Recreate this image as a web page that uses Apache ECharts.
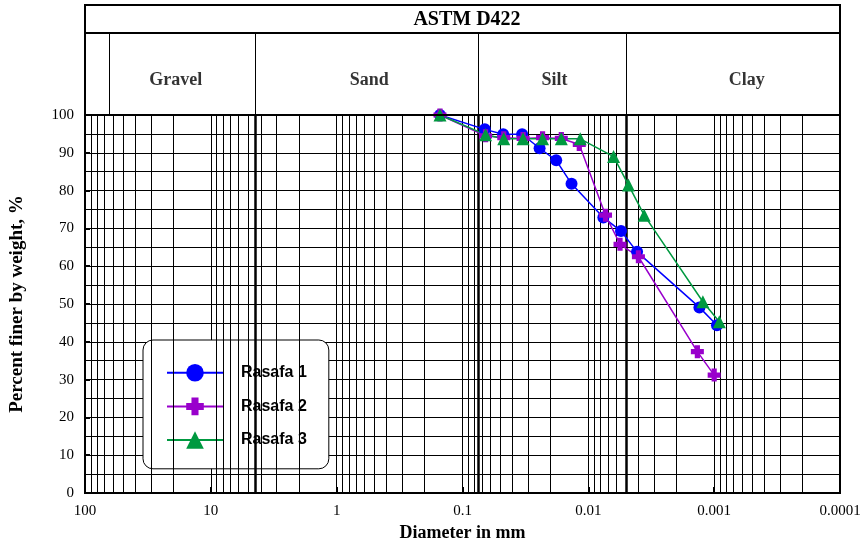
<!DOCTYPE html>
<html>
<head>
<meta charset="utf-8">
<script src="https://cdn.jsdelivr.net/npm/echarts@6/dist/echarts.min.js"></script>
<style>
  html, body { margin: 0; padding: 0; background: #fff; }
  #chart { width: 864px; height: 545px; }
</style>
</head>
<body>
<div id="chart"></div>
<script>
// grain size (mm) and percent finer for each sample
const rasafa1Size = [0.151, 0.0665, 0.0475, 0.0336, 0.0244, 0.018, 0.0136, 0.0076, 0.0055, 0.0041, 0.00131, 0.00095];
const rasafa1Pct  = [100, 96.2, 94.9, 94.9, 91.2, 88.0, 81.8, 72.9, 69.3, 63.8, 49.1, 44.4];
const rasafa2Size = [0.151, 0.0656, 0.047, 0.033, 0.0231, 0.0164, 0.0118, 0.0073, 0.0056, 0.004, 0.00136, 0.001];
const rasafa2Pct  = [100, 94.5, 94.0, 93.8, 94.0, 93.8, 92.2, 73.5, 65.8, 62.5, 37.4, 31.2];
const rasafa3Size = [0.151, 0.0656, 0.047, 0.033, 0.0231, 0.0164, 0.0116, 0.0063, 0.0048, 0.0036, 0.00123, 0.00091];
const rasafa3Pct  = [100, 94.8, 93.7, 93.7, 93.7, 93.7, 93.7, 89.0, 81.5, 73.5, 50.6, 45.3];

const seriesNames = ['Rasafa 1', 'Rasafa 2', 'Rasafa 3'];

// soil classification (ASTM D422) header
const zoneNames = ['Gravel', 'Sand', 'Silt', 'Clay'];
const zoneCenters = [19, 0.55, 0.0186, 0.00055];
const zoneBounds = [64, 4.4, 0.075, 0.005];
const thickBounds = [4.4, 0.075, 0.005];

// minor log grid lines: 2..9 in every decade
const minorLines = [];
for (let k = -4; k <= 1; k++) {
  for (let m = 2; m <= 9; m++) {
    minorLines.push(+(m * Math.pow(10, k)).toPrecision(3));
  }
}

function zip(xs, ys) {
  return xs.map(function (x, i) { return [x, ys[i]]; });
}

function vLines(values, width) {
  return {
    silent: true, symbol: ['none', 'none'], label: { show: false }, animation: false,
    precision: 10,
    lineStyle: { color: '#000', width: width, type: 'solid' },
    data: values.map(function (v) { return { xAxis: v }; })
  };
}

const serif = 'Liberation Serif';
const plusPath = 'path://M3,0H7V3H10V7H7V10H3V7H0V3H3Z';

const chart = echarts.init(document.getElementById('chart'));

const option = {
  animation: false,
  backgroundColor: '#fff',
  grid: [
    { left: 85, right: 24, top: 115, bottom: 52, show: true, borderColor: '#000', borderWidth: 2, containLabel: false, outerBoundsMode: 'none' },
    { left: 85, right: 24, top: 33, height: 82, show: false, containLabel: false, outerBoundsMode: 'none' }
  ],
  xAxis: [
    {
      type: 'log', logBase: 10, min: 0.0001, max: 100, inverse: true, splitNumber: 6,
      gridIndex: 0,
      name: 'Diameter in mm', nameLocation: 'middle', nameGap: 28,
      nameTextStyle: { fontFamily: serif, fontWeight: 'bold', fontSize: 18, color: '#000' },
      axisLine: { show: true, lineStyle: { color: '#000', width: 2 } },
      axisTick: { show: true, inside: true, length: 6, lineStyle: { color: '#000', width: 2 } },
      axisLabel: {
        fontFamily: serif, fontSize: 15, color: '#000', margin: 11,
        formatter: function (v) { return String(+v.toPrecision(3)); }
      },
      splitLine: { show: true, lineStyle: { color: '#000', width: 1 } }
    },
    {
      type: 'log', logBase: 10, min: 0.0001, max: 100, inverse: true,
      gridIndex: 1, show: false
    }
  ],
  yAxis: [
    {
      type: 'value', min: 0, max: 100, interval: 10, gridIndex: 0,
      name: 'Percent finer by weight, %', nameLocation: 'middle', nameGap: 58,
      nameTextStyle: { fontFamily: serif, fontWeight: 'bold', fontSize: 19, color: '#000' },
      axisLine: { show: true, lineStyle: { color: '#000', width: 2 } },
      axisTick: { show: true, inside: true, length: 5, lineStyle: { color: '#000', width: 2 } },
      axisLabel: { fontFamily: serif, fontSize: 15, color: '#000', margin: 11 },
      splitLine: { show: true, lineStyle: { color: '#000', width: 1 } },
      minorTick: { show: false, splitNumber: 2 },
      minorSplitLine: { show: true, lineStyle: { color: '#000', width: 1 } }
    },
    { type: 'value', min: 0, max: 1, gridIndex: 1, show: false }
  ],
  legend: {
    data: seriesNames,
    orient: 'vertical',
    left: 143, top: 340,
    padding: [24, 22, 20, 23],
    itemWidth: 56, itemHeight: 22, itemGap: 16,
    backgroundColor: '#fff',
    borderColor: '#000', borderWidth: 1, borderRadius: 10,
    textStyle: { fontFamily: 'Liberation Sans', fontWeight: 'bold', fontSize: 16, color: '#000', padding: [0, 0, 0, 13] }
  },
  graphic: [
    { type: 'rect', shape: { x: 85, y: 5, width: 755, height: 110 }, style: { fill: null, stroke: '#000', lineWidth: 2 }, z: 10 },
    { type: 'line', shape: { x1: 85, y1: 33, x2: 840, y2: 33 }, style: { stroke: '#000', lineWidth: 2 }, z: 10 },
    { type: 'text', x: 467, y: 20, style: { text: 'ASTM D422', fontFamily: serif, fontWeight: 'bold', fontSize: 20, fill: '#000', align: 'center', verticalAlign: 'middle' }, z: 10 }
  ],
  series: [
    { name: 'minor grid', type: 'line', data: [], silent: true, markLine: vLines(minorLines, 1) },
    { name: 'zone bounds', type: 'line', data: [], silent: true, markLine: vLines(thickBounds, 2.5) },
    {
      name: 'header', type: 'scatter', xAxisIndex: 1, yAxisIndex: 1, silent: true,
      symbolSize: 0,
      data: zoneNames.map(function (n, i) { return { name: n, value: [zoneCenters[i], 0.42] }; }),
      label: {
        show: true, position: 'inside', formatter: '{b}',
        fontFamily: serif, fontWeight: 'bold', fontSize: 18, color: '#000'
      },
      markLine: vLines(zoneBounds, 1)
    },
    {
      name: seriesNames[0], type: 'line', data: zip(rasafa1Size, rasafa1Pct),
      symbol: 'circle', symbolSize: 12, z: 5,
      itemStyle: { color: '#0000FF' },
      lineStyle: { color: '#0000FF', width: 1.5 }
    },
    {
      name: seriesNames[1], type: 'line', data: zip(rasafa2Size, rasafa2Pct),
      symbol: plusPath, symbolSize: 13, z: 5,
      itemStyle: { color: '#9900CC' },
      lineStyle: { color: '#9900CC', width: 1.5 }
    },
    {
      name: seriesNames[2], type: 'line', data: zip(rasafa3Size, rasafa3Pct),
      symbol: 'triangle', symbolSize: 13, z: 5,
      itemStyle: { color: '#009940' },
      lineStyle: { color: '#009940', width: 1.5 }
    }
  ]
};

chart.setOption(option);
</script>
</body>
</html>
